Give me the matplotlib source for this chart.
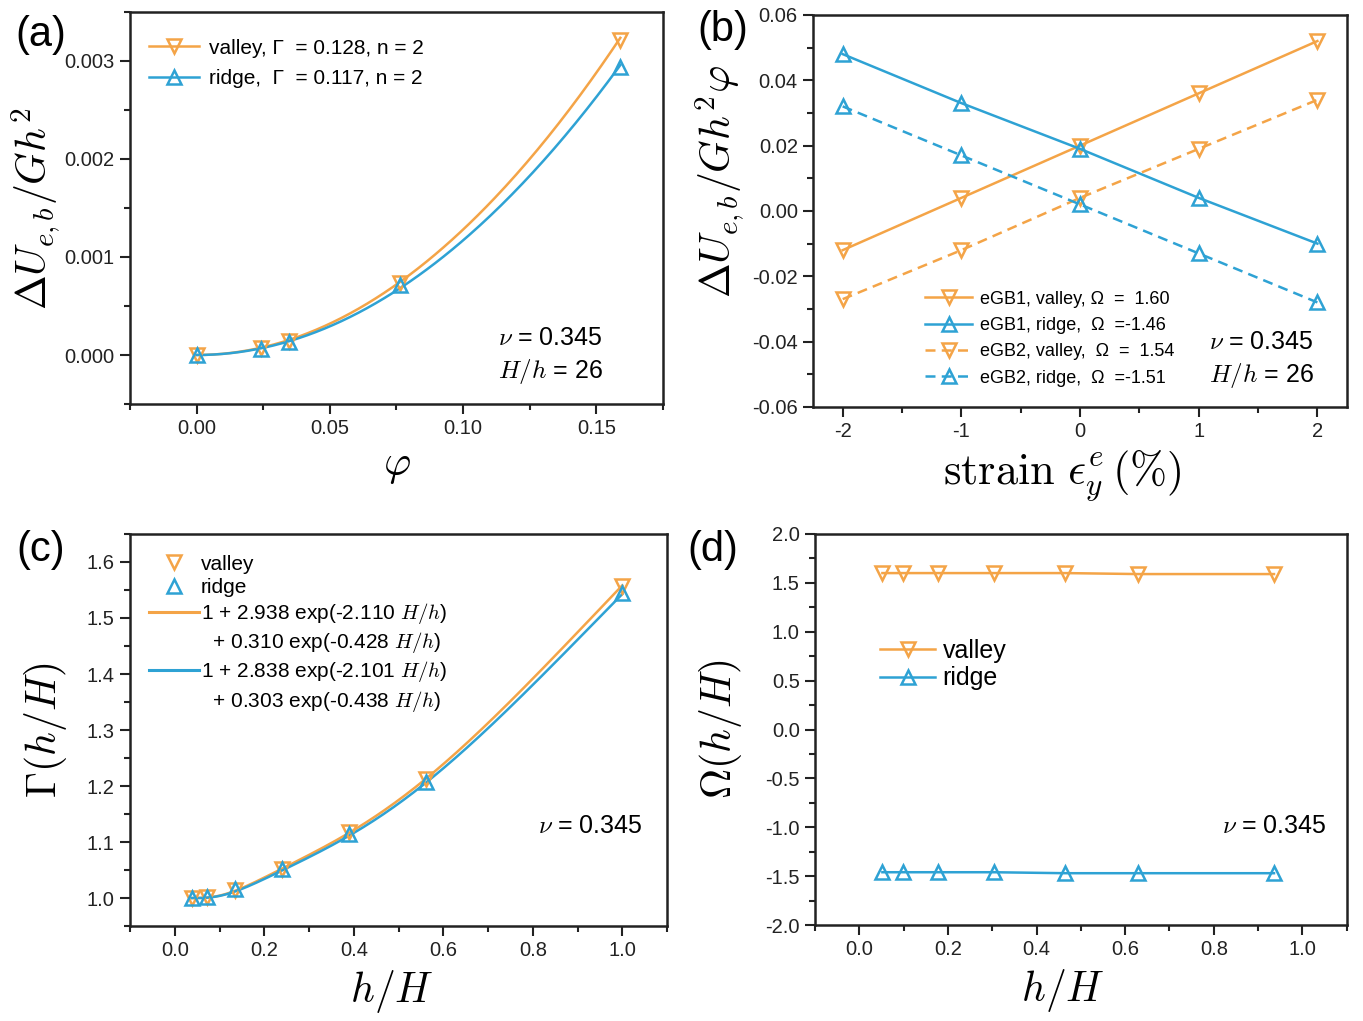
import numpy as np
import matplotlib
matplotlib.use("Agg")
import matplotlib.pyplot as plt
from matplotlib.lines import Line2D
from matplotlib.ticker import MultipleLocator

plt.rcParams['font.family'] = ['Liberation Sans', 'DejaVu Sans']
plt.rcParams['mathtext.fontset'] = 'cm'
plt.rcParams['axes.unicode_minus'] = False

ORANGE = '#F4A447'
BLUE = '#2EA2D4'
SPINE = '#222222'

# (a) energy vs rotation angle
phi_pts = [0.0, 0.024, 0.0346, 0.0763, 0.159]
dU_valley = [0.0, 0.00007, 0.00014, 0.00073, 0.00321]
dU_ridge = [0.0, 0.00006, 0.00013, 0.00071, 0.00294]
gamma_valley, gamma_ridge, n_exp = 0.128, 0.117, 2

# (b) normalised energy vs applied strain
strain = [-2, -1, 0, 1, 2]
egb1_valley = [-0.012, 0.004, 0.020, 0.036, 0.052]
egb1_ridge = [0.048, 0.033, 0.019, 0.004, -0.010]
egb2_valley = [-0.027, -0.012, 0.004, 0.019, 0.034]
egb2_ridge = [0.032, 0.017, 0.002, -0.013, -0.028]

# (c) Gamma vs h/H
hH_c = [0.038, 0.072, 0.135, 0.24, 0.389, 0.562, 1.0]
gam_valley = [1.000, 1.001, 1.014, 1.052, 1.118, 1.213, 1.557]
gam_ridge = [1.000, 1.002, 1.017, 1.052, 1.115, 1.208, 1.545]
fit_valley = (2.938, 2.110, 0.310, 0.428)
fit_ridge = (2.838, 2.101, 0.303, 0.438)

# (d) Omega vs h/H
hH_d = [0.052, 0.099, 0.177, 0.303, 0.465, 0.629, 0.936]
om_valley = [1.60, 1.60, 1.60, 1.60, 1.60, 1.59, 1.59]
om_ridge = [-1.46, -1.46, -1.46, -1.46, -1.47, -1.47, -1.47]

mk = dict(markersize=10, markerfacecolor='none', markeredgewidth=1.8)


def style_axes(ax, xmaj, xmin, ymaj, ymin):
    for s in ax.spines.values():
        s.set_linewidth(1.8)
        s.set_color(SPINE)
    ax.xaxis.set_major_locator(MultipleLocator(xmaj))
    ax.xaxis.set_minor_locator(MultipleLocator(xmin))
    ax.yaxis.set_major_locator(MultipleLocator(ymaj))
    ax.yaxis.set_minor_locator(MultipleLocator(ymin))
    ax.tick_params(which='both', direction='out', top=False, right=False,
                   width=1.5, color=SPINE, labelsize=14.5, labelcolor='#222222')
    ax.tick_params(which='major', length=7)
    ax.tick_params(which='minor', length=4)
    ax.tick_params(axis='x', which='major', pad=3.5)
    ax.tick_params(axis='y', which='major', pad=4)


fig = plt.figure(figsize=(13.63, 10.21), dpi=100)
ax_a = fig.add_axes([0.0954, 0.6043, 0.391, 0.384])
ax_b = fig.add_axes([0.5965, 0.6014, 0.3918, 0.384])
ax_c = fig.add_axes([0.0954, 0.0930, 0.394, 0.384])
ax_d = fig.add_axes([0.5980, 0.0940, 0.390, 0.383])

# ---- (a)
phi = np.linspace(0, phi_pts[-1], 200)
ax_a.plot(phi, gamma_valley * phi ** n_exp, color=ORANGE, lw=1.8)
ax_a.plot(phi, gamma_ridge * phi ** n_exp, color=BLUE, lw=1.8)
ax_a.plot(phi_pts, dU_valley, 'v', color=ORANGE, **mk)
ax_a.plot(phi_pts, dU_ridge, '^', color=BLUE, **mk)
ax_a.set_xlim(-0.025, 0.175)
ax_a.set_ylim(-0.0005, 0.0035)
style_axes(ax_a, 0.05, 0.025, 0.001, 0.0005)
ax_a.xaxis.set_major_formatter(lambda v, p: f'{v:.2f}')
ax_a.yaxis.set_major_formatter(lambda v, p: f'{v:.3f}')
ax_a.set_xlabel(r'$\varphi$', fontsize=30, labelpad=6)
ax_a.set_ylabel(r'$\Delta U_{e,b}/Gh^2$', fontsize=30, labelpad=2)
h_a = [Line2D([], [], color=ORANGE, lw=1.8, marker='v', **mk),
       Line2D([], [], color=BLUE, lw=1.8, marker='^', **mk)]
ax_a.legend(h_a, ['valley, Γ  = 0.128, n = 2', 'ridge,  Γ  = 0.117, n = 2'],
            loc='upper left', bbox_to_anchor=(0.0, 0.98), frameon=False, fontsize=15,
            handlelength=2.4, handletextpad=0.5, labelspacing=0.55)
ax_a.text(0.788, 0.168, r'$\nu$ = 0.345', transform=ax_a.transAxes, fontsize=18,
          ha='center', va='center')
ax_a.text(0.788, 0.082, r'$H/h$ = 26', transform=ax_a.transAxes, fontsize=18,
          ha='center', va='center')

# ---- (b)
ax_b.plot(strain, egb1_valley, '-v', color=ORANGE, lw=1.8, **mk)
ax_b.plot(strain, egb1_ridge, '-^', color=BLUE, lw=1.8, **mk)
ax_b.plot(strain, egb2_valley, 'v', ls=(0, (4, 2.5)), color=ORANGE, lw=1.8, **mk)
ax_b.plot(strain, egb2_ridge, '^', ls=(0, (4, 2.5)), color=BLUE, lw=1.8, **mk)
ax_b.set_xlim(-2.25, 2.25)
ax_b.set_ylim(-0.06, 0.06)
style_axes(ax_b, 1, 0.5, 0.02, 0.01)
ax_b.yaxis.set_major_formatter(lambda v, p: f'{v:.2f}')
ax_b.set_xlabel(r'$\mathrm{strain}\ \epsilon_y^e\,(\%)$', fontsize=32, labelpad=5)
ax_b.xaxis.label.set_x(0.466)
ax_b.set_ylabel(r'$\Delta U_{e,b}/Gh^2\varphi$', fontsize=30, labelpad=4)
ax_b.yaxis.label.set_y(0.575)
ax_b.legend(['eGB1, valley, Ω  =  1.60', 'eGB1, ridge,  Ω  =-1.46',
             'eGB2, valley,  Ω  =  1.54', 'eGB2, ridge,  Ω  =-1.51'],
            loc='lower left', bbox_to_anchor=(0.18, 0.01), frameon=False, fontsize=13,
            handlelength=2.6, handletextpad=0.4, labelspacing=0.52)
ax_b.text(0.839, 0.166, r'$\nu$ = 0.345', transform=ax_b.transAxes, fontsize=18,
          ha='center', va='center')
ax_b.text(0.839, 0.079, r'$H/h$ = 26', transform=ax_b.transAxes, fontsize=18,
          ha='center', va='center')

# ---- (c)
hh = np.linspace(hH_c[0], 1.0, 300)


def gamma_fit(x, p):
    a1, b1, a2, b2 = p
    return 1 + a1 * np.exp(-b1 / x) + a2 * np.exp(-b2 / x)


ax_c.plot(hh, gamma_fit(hh, fit_valley), color=ORANGE, lw=1.8)
ax_c.plot(hh, gamma_fit(hh, fit_ridge), color=BLUE, lw=1.8)
ax_c.plot(hH_c, gam_valley, 'v', color=ORANGE, **mk)
ax_c.plot(hH_c, gam_ridge, '^', color=BLUE, **mk)
ax_c.set_xlim(-0.1, 1.1)
ax_c.set_ylim(0.95, 1.65)
style_axes(ax_c, 0.2, 0.1, 0.1, 0.05)
ax_c.xaxis.set_major_formatter(lambda v, p: f'{v:.1f}')
ax_c.yaxis.set_major_formatter(lambda v, p: f'{v:.1f}')
ax_c.set_xlabel(r'$h/H$', fontsize=30, labelpad=6)
ax_c.xaxis.label.set_x(0.488)
ax_c.set_ylabel(r'$\Gamma(h/H)$', fontsize=30, labelpad=13)
blank = Line2D([], [], ls='none')
h_c = [Line2D([], [], ls='none', color=ORANGE, marker='v', **mk),
       Line2D([], [], ls='none', color=BLUE, marker='^', **mk),
       Line2D([], [], color=ORANGE, lw=2.2), blank,
       Line2D([], [], color=BLUE, lw=2.2), blank]
ax_c.legend(h_c, ['valley', 'ridge',
                  '1 + 2.938 exp(-2.110 $H/h$)', '  + 0.310 exp(-0.428 $H/h$)',
                  '1 + 2.838 exp(-2.101 $H/h$)', '  + 0.303 exp(-0.438 $H/h$)'],
            loc='upper left', bbox_to_anchor=(0.0, 0.995), frameon=False, fontsize=15,
            handlelength=2.4, handletextpad=0.1, labelspacing=0.2)
ax_c.text(0.857, 0.255, r'$\nu$ = 0.345', transform=ax_c.transAxes, fontsize=18,
          ha='center', va='center')

# ---- (d)
ax_d.plot(hH_d, om_valley, '-v', color=ORANGE, lw=1.8, **mk)
ax_d.plot(hH_d, om_ridge, '-^', color=BLUE, lw=1.8, **mk)
ax_d.set_xlim(-0.1, 1.1)
ax_d.set_ylim(-2.0, 2.0)
style_axes(ax_d, 0.2, 0.1, 0.5, 0.25)
ax_d.xaxis.set_major_formatter(lambda v, p: f'{v:.1f}')
ax_d.yaxis.set_major_formatter(lambda v, p: f'{v:.1f}')
ax_d.set_xlabel(r'$h/H$', fontsize=30, labelpad=6)
ax_d.xaxis.label.set_x(0.466)
ax_d.set_ylabel(r'$\Omega(h/H)$', fontsize=30, labelpad=15)
ax_d.legend(['valley', 'ridge'], loc='upper left', bbox_to_anchor=(0.08, 0.79),
            frameon=False, fontsize=18, handlelength=2.2, handletextpad=0.3,
            labelspacing=0.15)
ax_d.text(0.863, 0.253, r'$\nu$ = 0.345', transform=ax_d.transAxes, fontsize=18,
          ha='center', va='center')

# panel tags
for x, y, tag in [(0.030, 0.966, '(a)'), (0.530, 0.971, '(b)'),
                  (0.030, 0.461, '(c)'), (0.523, 0.461, '(d)')]:
    fig.text(x, y, tag, fontsize=30, ha='center', va='center')

fig.savefig('out.png', dpi=100)
